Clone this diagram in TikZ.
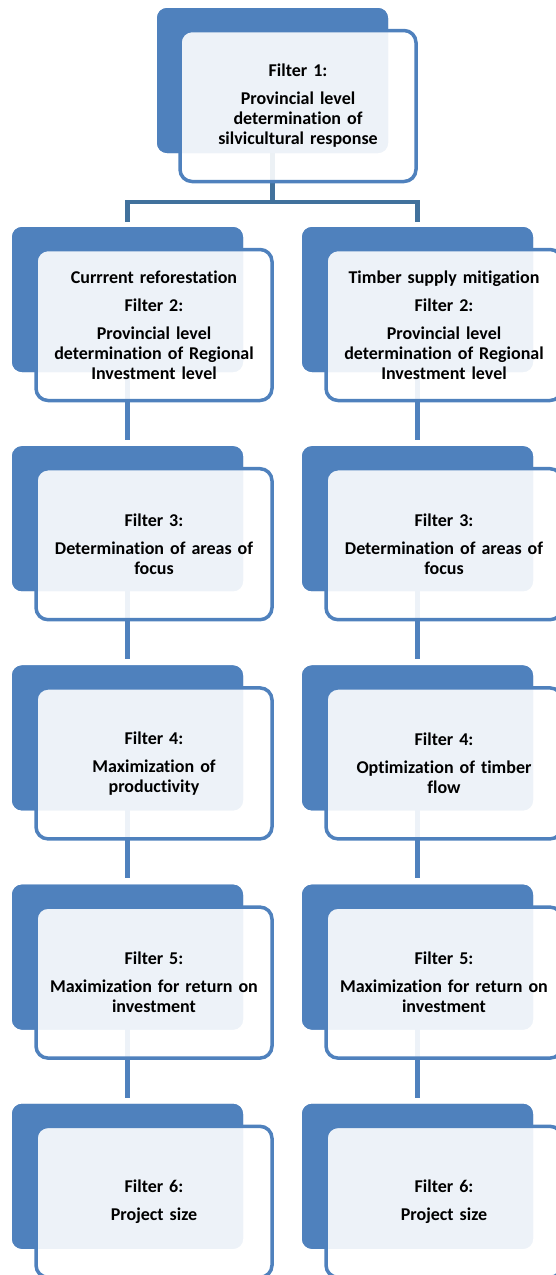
\documentclass[tikz,border=0pt]{standalone}
\usepackage{fontspec}
\setmainfont{Carlito}[Ligatures=NoCommon]
\definecolor{boxblue}{HTML}{4F81BD}
\definecolor{linkblue}{HTML}{41719C}
\begin{document}
\begin{tikzpicture}[x=1pt,y=-1pt,
  backbox/.style={fill=boxblue, rounded corners=10pt, minimum width=231pt, minimum height=145pt, inner sep=0pt},
  frontbox/.style={fill=white, fill opacity=0.9, text opacity=1, draw=boxblue, draw opacity=1, line width=3.5pt, rounded corners=12pt, minimum width=236pt, minimum height=151pt, inner sep=2pt, align=center, font=\fontsize{18}{20}\selectfont\bfseries, text width=226pt},
  link/.style={draw=linkblue, line width=4.5pt},
  vlink/.style={draw=boxblue, line width=4.5pt, shorten >=6pt}]
\useasboundingbox (0,0) rectangle (555,1275);
% back box positions
\path (272.5,80.5) coordinate (p1);
\foreach \r/\y in {2/299.5,3/518.7,4/737.9,5/957.1,6/1176.3}{
  \path (127.5,\y) coordinate (pL\r);
  \path (417.5,\y) coordinate (pR\r);
}
\node[backbox] (b1) at (p1) {};
\coordinate (j) at (272.5,202);
\coordinate (jl) at (127.5,202);
\coordinate (jr) at (417.5,202);
\foreach \r in {2,...,6}{
  \node[backbox] (bL\r) at (pL\r) {};
  \node[backbox] (bR\r) at (pR\r) {};
}
% connectors
\draw[link] (b1.center) -- (j);
\draw[link] ([xshift=-2.25pt]jl) -- ([xshift=2.25pt]jr);
\draw[link, shorten >=5pt] (jl) -- (bL2.north);
\draw[link, shorten >=5pt] (jr) -- (bR2.north);
\foreach \r/\s in {2/3,3/4,4/5,5/6}{
  \draw[vlink] (bL\r.center) -- (bL\s.north);
  \draw[vlink] (bR\r.center) -- (bR\s.north);
}
% redraw back boxes over connectors
\node[backbox] at (p1) {};
\foreach \r in {2,...,6}{
  \node[backbox] at (pL\r) {};
  \node[backbox] at (pR\r) {};
}
% front boxes
\node[frontbox] (f1) at ([shift={(25.5,25.5)}]p1) {Filter 1:\\[8pt]Provincial level\\determination of\\silvicultural response};
\node[frontbox] (fL2) at ([shift={(26.5,25.5)}]pL2) {Currrent reforestation\\[8pt]Filter 2:\\[8pt]Provincial level\\determination of Regional\\Investment level};
\node[frontbox] (fR2) at ([shift={(26.5,25.5)}]pR2) {Timber supply mitigation\\[8pt]Filter 2:\\[8pt]Provincial level\\determination of Regional\\Investment level};
\node[frontbox] (fL3) at ([shift={(26.5,25.5)}]pL3) {Filter 3:\\[8pt]Determination of areas of\\focus};
\node[frontbox] (fR3) at ([shift={(26.5,25.5)}]pR3) {Filter 3:\\[8pt]Determination of areas of\\focus};
\node[frontbox] (fL4) at ([shift={(26.5,25.5)}]pL4) {Filter 4:\\[8pt]Maximization of\\productivity};
\node[frontbox] (fR4) at ([shift={(26.5,25.5)}]pR4) {Filter 4:\\[8pt]Optimization of timber\\flow};
\node[frontbox] (fL5) at ([shift={(26.5,25.5)}]pL5) {Filter 5:\\[8pt]Maximization for return on\\investment};
\node[frontbox] (fR5) at ([shift={(26.5,25.5)}]pR5) {Filter 5:\\[8pt]Maximization for return on\\investment};
\node[frontbox] (fL6) at ([shift={(26.5,25.5)}]pL6) {Filter 6:\\[8pt]Project size};
\node[frontbox] (fR6) at ([shift={(26.5,25.5)}]pR6) {Filter 6:\\[8pt]Project size};
\end{tikzpicture}
\end{document}
